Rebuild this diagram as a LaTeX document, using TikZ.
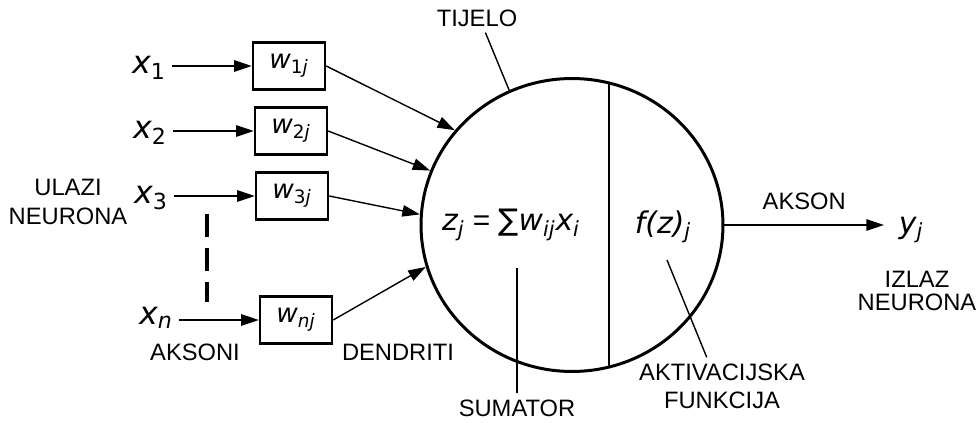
\documentclass[tikz,border=0pt]{standalone}
\usepackage{fontspec}
\setmainfont{Liberation Sans}
\newfontfamily\vf{DejaVu Sans}
\usetikzlibrary{positioning,arrows.meta,shapes.geometric}
\newcommand{\vr}[2]{{\vf\itshape #1}\textsubscript{\vf #2}}

\begin{document}
\begin{tikzpicture}[x=0.02cm,y=-0.02cm,>={Triangle[length=10pt,width=6.5pt]},
  every node/.style={font=\fontsize{13.5}{16}\selectfont},
  wbox/.style={draw,line width=1.4pt,minimum width=1.44cm,minimum height=0.94cm,inner sep=0pt,font=\fontsize{15}{18}\selectfont},
  xlab/.style={font=\fontsize{18}{20}\selectfont},
  mlab/.style={font=\fontsize{17}{20}\selectfont},
  arr/.style={->,line width=0.8pt},
  lead/.style={line width=0.8pt}]
\useasboundingbox (0,0) rectangle (978,423);
% ulazi i tezine
\node[xlab] (x1) at (149,68) {\vr{x}{1}};
\node[xlab] (x2) at (150,133) {\vr{x}{2}};
\node[xlab] (x3) at (151,198) {\vr{x}{3}};
\node[xlab] (xn) at (156,318) {\vr{x}{\textit{n}}};
\node[wbox] (w1) at (289,66) {\vr{w}{1\textit{j}}};
\node[wbox] (w2) at (291,131) {\vr{w}{2\textit{j}}};
\node[wbox] (w3) at (292,196) {\vr{w}{3\textit{j}}};
\node[wbox] (wn) at (296,320) {\vr{w}{\textit{nj}}};
\draw[arr] (x1.east |- w1) -- (w1);
\draw[arr] (x2.east |- w2) -- (w2);
\draw[arr] (x3.east |- w3) -- (w3);
\draw[arr] (xn.east |- wn) -- (wn);
\coordinate (dtop) at (207,214);
\coordinate (dbot) at (207,302);
\draw[line width=2.2pt,dash pattern=on 13pt off 6.3pt] (dtop) -- (dbot);
\node[align=center,font=\fontsize{13.5}{16.5}\selectfont] (ulazi) at (68,202) {ULAZI\\NEURONA};
\node (aksoni) at (195,352) {AKSONI};
\node (dendriti) at (398,352) {DENDRITI};
% tijelo neurona
\node[ellipse,draw,line width=1.7pt,minimum width=6.04cm,minimum height=5.86cm,inner sep=0pt] (body) at (572,225) {};
\draw[line width=1.7pt] (609,83) -- (609,367);
\draw[arr] (w1.east) -- (body.141);
\draw[arr] (w2.east) -- (body.159.5);
\draw[arr] (w3.east) -- (body.176);
\draw[arr] (wn.east) -- (body.196.5);
\node[mlab] (sum) at (511,225) {\vr{z}{\textit{j}} = {\vf∑}\vr{w}{\textit{ij}}\vr{x}{\textit{i}}};
\node[mlab] (act) at (663,227) {{\vf\itshape f(z)}\textsubscript{\vf\itshape j}};
\node (tijelo) at (477,18) {TIJELO};
\draw[lead] (tijelo.-60) -- (body.115);
\node (sumator) at (517,408) {SUMATOR};
\coordinate (sumtip) at (517,268);
\draw[lead] (sumator.north) -- (sumtip);
\node[align=center,font=\fontsize{13.5}{16}\selectfont] (aktiv) at (722,386) {AKTIVACIJSKA\\FUNKCIJA};
\coordinate (acttip) at (667,260);
\draw[lead] (aktiv.118) -- (acttip);
% izlaz
\coordinate (out) at (884,225);
\draw[arr] (body.east) -- (out) node[midway,above=5pt] (akson) {AKSON};
\node[mlab] (yj) at (911,230) {\vr{y}{\textit{j}}};
\node[align=center,font=\fontsize{13.5}{13}\selectfont] (izlaz) at (917,291) {IZLAZ\\NEURONA};
\end{tikzpicture}
\end{document}
